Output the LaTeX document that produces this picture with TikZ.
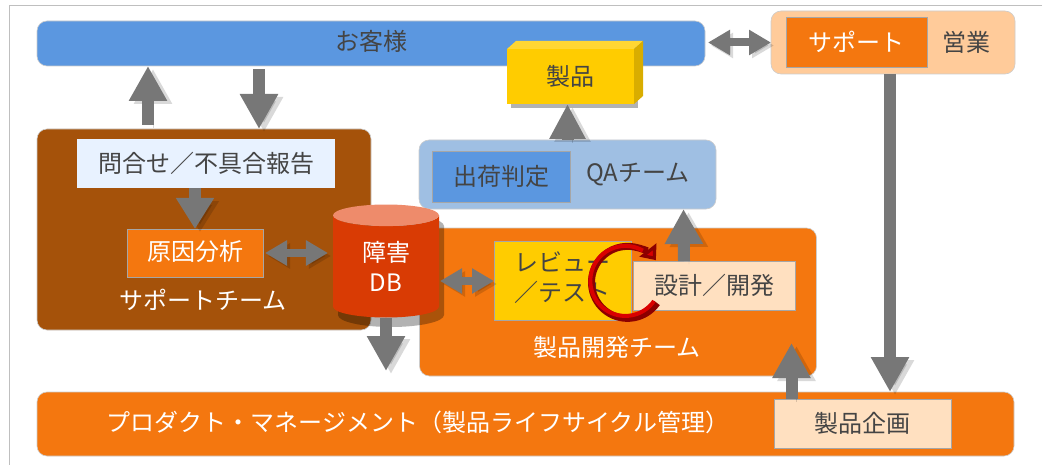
\documentclass[tikz,border=0pt]{standalone}
\usepackage{fontspec}
\setmainfont{Noto Sans CJK JP}
\usetikzlibrary{arrows.meta, positioning, shapes.geometric, shadows}
\definecolor{bluebar}{HTML}{5B97E0}
\definecolor{bluepale}{HTML}{9FBFE3}
\definecolor{bluelight}{HTML}{E8F2FF}
\definecolor{brownbox}{HTML}{A5520A}
\definecolor{orangebox}{HTML}{F4770F}
\definecolor{peachbox}{HTML}{FFCB9A}
\definecolor{creambox}{HTML}{FFE0C0}
\definecolor{yellowbox}{HTML}{FFCC00}
\definecolor{arrowgray}{HTML}{777777}
\definecolor{textgray}{HTML}{444444}
\definecolor{dbred}{HTML}{D93B04}
\definecolor{dbtop}{HTML}{EE8B6B}

\begin{document}
\begin{tikzpicture}[x=1pt,y=-1pt,on grid,
    every node/.style={font=\fontsize{24}{30}\selectfont,text=textgray,inner sep=0pt,outer sep=0pt},
    panel/.style={rounded corners=10pt,draw=black!20,line width=.6pt},
    tag/.style={draw=black!35,line width=.5pt},
    softshadow/.style={drop shadow={shadow xshift=4pt,shadow yshift=-4pt,opacity=.3,fill=black}},
    bigarrow/.style={line width=12pt,draw=arrowgray,-{Triangle[length=35pt,width=36pt]},
      preaction={draw=black,opacity=.15,transform canvas={xshift=5pt,yshift=-3pt}}},
    bothways/.style={line width=8pt,draw=arrowgray,{Triangle[length=22pt,width=24pt]}-{Triangle[length=22pt,width=24pt]},
      preaction={draw=black,opacity=.15,transform canvas={xshift=3pt,yshift=-3pt}}}]

    \useasboundingbox (0,0) rectangle (1054,465);
    \draw[black!25,line width=1pt] (1042,5.5) -- (9.5,5.5) -- (9.5,465);

    \node[panel,fill=bluebar,minimum width=668pt,minimum height=45pt] (customer) at (371,43.5) {};
    \node (customer_label) at (371,41) {お客様};

    \node[panel,fill=peachbox,minimum width=244pt,minimum height=63pt] (sales) at (893,42.5) {};
    \node[tag,fill=orangebox,text=white,minimum width=141pt,minimum height=50pt] (sales_support) at (856.5,42) {サポート};
    \node (sales_label) [right=110pt of sales_support] {営業};

    \node[panel,fill=brownbox,minimum width=334pt,minimum height=201pt] (support_team) at (204,229.5) {};
    \node[fill=bluelight,minimum width=258pt,minimum height=49pt] (inquiry) at (206,163.5) {問合せ／不具合報告};
    \node[tag,fill=orangebox,text=white,minimum width=136pt,minimum height=48pt] (analysis) at (195,253) {};
    \node[text=white] (analysis_label) at (195,251) {原因分析};
    \node[text=white] (support_label) [below=47pt of analysis, xshift=8pt] {サポートチーム};

    \node[panel,fill=bluepale,minimum width=297pt,minimum height=69pt] (qa_team) at (567.5,174.5) {};
    \node[tag,fill=bluebar,minimum width=138pt,minimum height=51pt] (shipping) at (501,176.5) {出荷判定};
    \node (qa_label) [right=137pt of shipping, yshift=2.5pt] {QAチーム};

    \node[panel,fill=orangebox,minimum width=397pt,minimum height=148pt] (dev_team) at (618,302) {};
    \node[tag,fill=yellowbox,minimum width=137pt,minimum height=79pt] (review) at (562.5,281) {};
    \node[align=center] (review_label) at (562.5,278) {レビュー\\／テスト};
    \node[tag,fill=creambox,minimum width=162pt,minimum height=49pt] (design) at (714,285.5) {設計／開発};
    \node[text=white] (dev_label) at (617,347) {製品開発チーム};

    \node[panel,fill=orangebox,minimum width=977pt,minimum height=64pt] (management) at (525.5,424) {};
    \node[text=white] (management_label) at (418,422) {プロダクト・マネージメント（製品ライフサイクル管理）};
    \node[tag,fill=creambox,minimum width=177pt,minimum height=49pt] (planning) at (862.5,423.5) {製品企画};

    \node[fill=yellowbox,softshadow,minimum width=127pt,minimum height=55pt] (product) at (570.5,76.5) {製品};
    \fill[yellowbox!80!white] (product.north west) -- ++(9,-8) -- ++(127,0) -- (product.north east) -- cycle;
    \fill[yellowbox!85!black] (product.north east) -- ++(9,-8) -- ++(0,55) -- (product.south east) -- cycle;

    \fill[black,opacity=.3,shift={(391,270.5)}] (-53,-44.5) arc[start angle=180,end angle=0,x radius=53pt,y radius=12pt]
      -- (53,44.5) arc[start angle=0,end angle=-180,x radius=53pt,y radius=12pt] -- cycle;
    \node[cylinder,shape border rotate=90,aspect=.45,minimum width=106pt,minimum height=113pt,
      cylinder uses custom fill,cylinder body fill=dbred,cylinder end fill=dbtop,
      text=white,align=center] (db) at (386,266.5) {障害\\DB};

    \draw[bigarrow,shorten <=4pt] ([xshift=-56pt]support_team.north) -- ([xshift=-223pt]customer.south);
    \draw[bigarrow,shorten <=3.5pt] ([xshift=-112pt]customer.south) -- ([xshift=55pt]support_team.north);
    \draw[bigarrow,-{Triangle[length=31pt,width=36pt]}] (inquiry.south -| analysis.north) -- (analysis.north);
    \draw[bothways,shorten <=2pt,shorten >=5pt] (analysis.east) -- (analysis.east -| db.west);
    \draw[bothways,shorten <=1pt] (review.west -| db.east) -- (review.west);
    \draw[bothways,shorten <=3pt] (customer.east |- sales.west) -- (sales.west);
    \draw[bigarrow,shorten >=5pt] (db.south) -- (db.south |- dev_team.south);
    \draw[bigarrow,-{Triangle[length=35pt,width=34pt]}] (qa_team.north) -- (product.south -| qa_team.north);
    \draw[bigarrow] ([xshift=-30pt]design.north) -- ([xshift=116pt]qa_team.south);
    \draw[bigarrow] ([xshift=-3pt]sales.south) -- ([xshift=-3pt]sales.south |- management.north);
    \draw[bigarrow] ([xshift=-71pt]planning.north) -- ([xshift=-71pt,yshift=56pt]planning.north);

    % rotation mark over the two boxes
    \draw[line width=7pt,draw=red!55!black,-{Triangle[length=13pt,width=21pt,fill=red!85!black]}]
      (657,303) arc[start angle=-35,end angle=-322,radius=36pt];
    \draw[line width=4pt,draw=red!85!black]
      (654,301) arc[start angle=-35,end angle=-300,radius=35pt];
\end{tikzpicture}
\end{document}
